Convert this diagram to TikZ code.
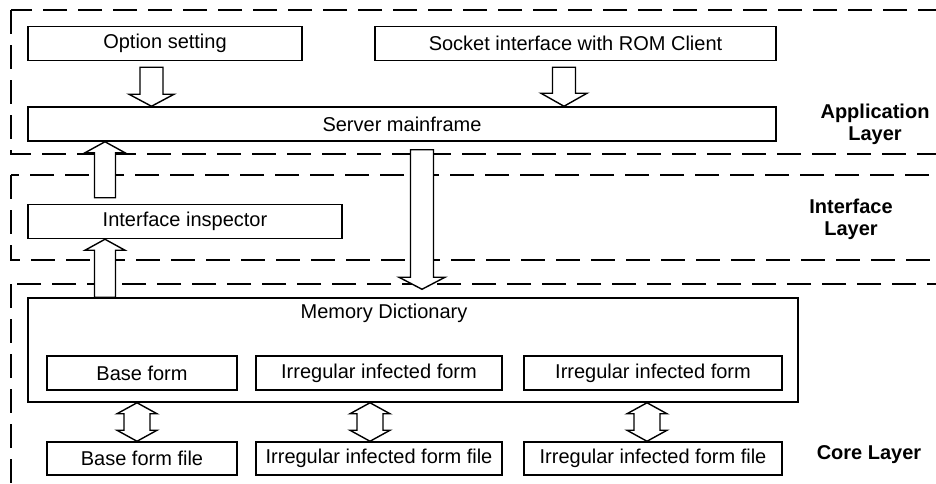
\documentclass[tikz,border=0pt]{standalone}
\usepackage{fontspec}
\setmainfont{Liberation Sans}
\usetikzlibrary{calc}

\tikzset{
  box/.style={draw, line width=1.5pt, inner sep=0pt, minimum height=34pt,
              font=\fontsize{20}{22}\selectfont},
  layerframe/.style={draw, line width=1.8pt, dash pattern=on 24pt off 11pt},
  layername/.style={align=center, font=\fontsize{20}{22}\selectfont\bfseries},
  blk/.style={draw, line width=1.4pt, fill=white, line join=miter},
}

% hollow block arrow running vertically from #1 to #2 (x taken from #1)
% #3 shaft half width, #4 head half width, #5 head length
\newcommand\blkarrow[5]{%
  \path[blk] let \p1=(#1), \p2=(#2), \n1={sign(\y2-\y1)} in
    (\x1-#3pt,\y1) -- (\x1-#3pt,\y2-\n1*#5pt) -- (\x1-#4pt,\y2-\n1*#5pt)
    -- (\x1,\y2) -- (\x1+#4pt,\y2-\n1*#5pt) -- (\x1+#3pt,\y2-\n1*#5pt)
    -- (\x1+#3pt,\y1) -- cycle;}

% hollow double-headed block arrow, vertical, from #1 down to #2
\newcommand\dblarrow[5]{%
  \path[blk] let \p1=(#1), \p2=(#2), \n1={sign(\y2-\y1)} in
    (\x1,\y1) -- (\x1+#4pt,\y1+\n1*#5pt) -- (\x1+#3pt,\y1+\n1*#5pt)
    -- (\x1+#3pt,\y2-\n1*#5pt) -- (\x1+#4pt,\y2-\n1*#5pt) -- (\x1,\y2)
    -- (\x1-#4pt,\y2-\n1*#5pt) -- (\x1-#3pt,\y2-\n1*#5pt)
    -- (\x1-#3pt,\y1+\n1*#5pt) -- (\x1-#4pt,\y1+\n1*#5pt) -- cycle;}

\begin{document}
\begin{tikzpicture}[x=1pt, y=-1pt]
  \clip (0,0) rectangle (936,483);
  \fill[white] (0,0) rectangle (936,483);

  % layer frames, open to the right
  \draw[layerframe] (11,10) rectangle (980,154);
  \draw[layerframe] (11,175) rectangle (980,260);
  \draw[layerframe] (11,284) rectangle (980,520);

  % application layer
  \node[box, minimum width=274pt] (opt) at (165,43.5) {Option setting};
  \node[box, minimum width=401pt] (sock) at (575.5,43.5) {Socket interface with ROM Client};
  \node[box, minimum width=748pt] (server) at (402,124) {Server mainframe};

  % interface layer
  \node[box, minimum width=314pt] (insp) at (185,221.5) {Interface inspector};

  % core layer
  \node[box, minimum width=770pt, minimum height=104pt] (mem) at (413,350) {};
  \node[font=\fontsize{20}{22}\selectfont, inner sep=0pt] (memtitle) at (384,313) {Memory Dictionary};
  \node[box, minimum width=190pt] (bf) at (142,373) {Base form};
  \node[box, minimum width=246pt] (if1) at (379,373) {Irregular infected form};
  \node[box, minimum width=258pt] (if2) at (653,373) {Irregular infected form};
  \node[box, minimum width=190pt, minimum height=33pt] (bff) at (142,458.5) {Base form file};
  \node[box, minimum width=246pt, minimum height=33pt] (iff1) at (379,458.5) {Irregular infected form file};
  \node[box, minimum width=258pt, minimum height=33pt] (iff2) at (653,458.5) {Irregular infected form file};

  % layer names
  \node[layername] (lapp) at (875,124) {Application\\Layer};
  \node[layername] (lint) at (851,219.5) {Interface\\Layer};
  \node[layername] (lcore) at (869,455) {Core Layer};

  % connectors
  \blkarrow{$(opt.south)+(-13.5,6)$}{server.north}{11.5}{22.5}{12}
  \blkarrow{$(sock.south)+(-11.5,6)$}{server.north}{11.5}{23}{13}
  \blkarrow{$(insp.north)+(-80,-6)$}{server.south}{10.5}{20}{11}
  \blkarrow{$(mem.north)+(-308,0)$}{insp.south}{10.5}{20}{11}
  \blkarrow{$(server.south)+(20,8)$}{$(mem.north)+(0,-8)$}{11.5}{23}{12}
  \dblarrow{$(mem.south -| bf.south)+(-5,0)$}{bff.north}{13}{20}{11}
  \dblarrow{$(mem.south -| if1.south)+(-9,0)$}{iff1.north}{13}{20}{11}
  \dblarrow{$(mem.south -| if2.south)+(-6,0)$}{iff2.north}{13}{20}{11}
\end{tikzpicture}
\end{document}
